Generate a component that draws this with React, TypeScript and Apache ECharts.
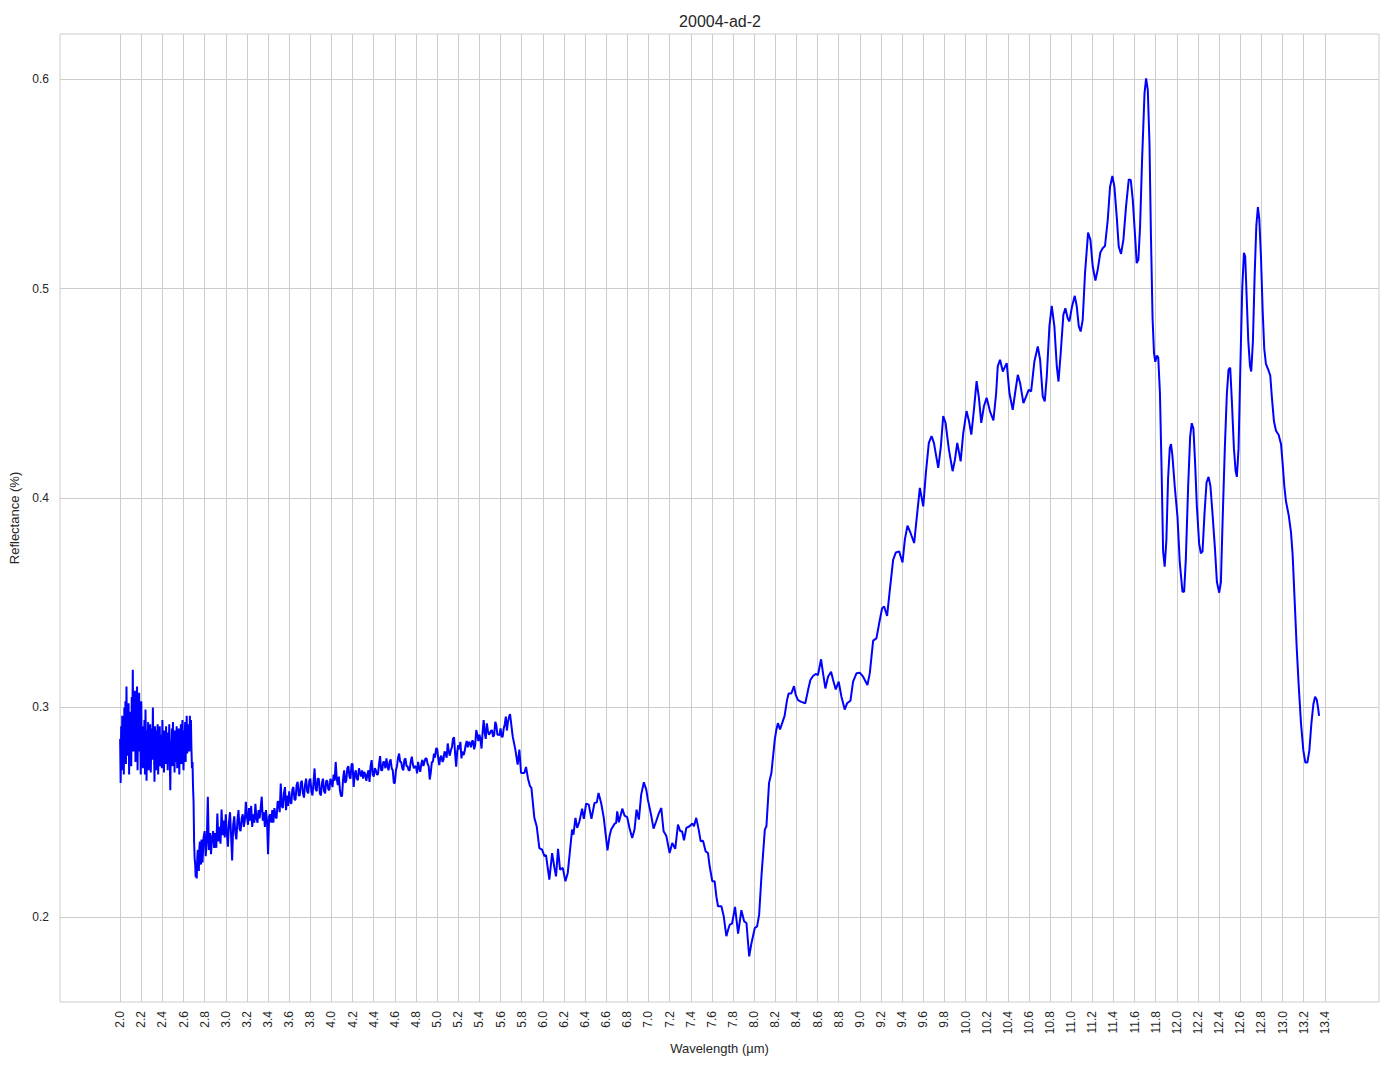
import React, { useEffect, useRef } from "react";
import * as echarts from "echarts";

// ---- data (wavelength µm, reflectance) ----
const nirBand: [number, number][] = [
  [2.0, 0.285], [2.005, 0.264], [2.01, 0.291], [2.015, 0.27], [2.02, 0.296], [2.025, 0.276], [2.03, 0.288], [2.035, 0.268], [2.04, 0.3], [2.045, 0.281],
  [2.05, 0.303], [2.055, 0.273], [2.06, 0.31], [2.065, 0.285], [2.07, 0.296], [2.075, 0.277], [2.08, 0.302], [2.085, 0.268], [2.09, 0.292], [2.095, 0.28],
  [2.1, 0.298], [2.105, 0.272], [2.11, 0.305], [2.115, 0.288], [2.12, 0.318], [2.125, 0.279], [2.13, 0.3], [2.135, 0.283], [2.14, 0.308], [2.145, 0.274],
  [2.15, 0.306], [2.155, 0.281], [2.16, 0.31], [2.165, 0.27], [2.17, 0.295], [2.175, 0.279], [2.18, 0.307], [2.185, 0.284], [2.19, 0.296], [2.195, 0.268],
  [2.2, 0.303], [2.205, 0.279], [2.21, 0.291], [2.215, 0.271], [2.22, 0.288], [2.225, 0.277], [2.23, 0.294], [2.235, 0.268], [2.24, 0.299], [2.245, 0.282],
  [2.25, 0.265], [2.255, 0.289], [2.26, 0.276], [2.265, 0.293], [2.27, 0.27], [2.275, 0.287], [2.28, 0.281], [2.285, 0.292], [2.29, 0.269], [2.295, 0.284],
  [2.3, 0.29], [2.305, 0.275], [2.31, 0.3], [2.315, 0.279], [2.32, 0.286], [2.325, 0.2645], [2.33, 0.291], [2.335, 0.273], [2.34, 0.289], [2.345, 0.27],
  [2.35, 0.283], [2.355, 0.292], [2.36, 0.268], [2.365, 0.286], [2.37, 0.275], [2.375, 0.291], [2.38, 0.272], [2.385, 0.287], [2.39, 0.279], [2.395, 0.271],
  [2.4, 0.294], [2.405, 0.277], [2.41, 0.285], [2.415, 0.269], [2.42, 0.289], [2.425, 0.281], [2.43, 0.273], [2.435, 0.291], [2.44, 0.276], [2.445, 0.287],
  [2.45, 0.27], [2.455, 0.288], [2.46, 0.279], [2.465, 0.292], [2.47, 0.274], [2.475, 0.2605], [2.48, 0.284], [2.485, 0.277], [2.49, 0.29], [2.495, 0.272],
  [2.5, 0.293], [2.505, 0.278], [2.51, 0.286], [2.515, 0.269], [2.52, 0.289], [2.525, 0.274], [2.53, 0.282], [2.535, 0.291], [2.54, 0.271], [2.545, 0.285],
  [2.55, 0.276], [2.555, 0.29], [2.56, 0.268], [2.565, 0.284], [2.57, 0.279], [2.575, 0.292], [2.58, 0.273], [2.585, 0.288], [2.59, 0.294], [2.595, 0.276],
  [2.6, 0.27], [2.605, 0.289], [2.61, 0.28], [2.615, 0.293], [2.62, 0.274], [2.625, 0.287], [2.63, 0.296], [2.635, 0.278], [2.64, 0.291], [2.645, 0.283],
  [2.65, 0.292], [2.655, 0.279], [2.66, 0.296], [2.665, 0.283], [2.67, 0.294], [2.675, 0.28], [2.68, 0.271], [2.685, 0.274], [2.69, 0.262], [2.695, 0.255],
  [2.7, 0.236], [2.705, 0.228], [2.71, 0.2255], [2.715, 0.219], [2.72, 0.224], [2.725, 0.2184], [2.73, 0.228], [2.735, 0.232], [2.74, 0.224], [2.745, 0.222],
  [2.75, 0.233], [2.755, 0.236], [2.76, 0.226], [2.765, 0.225], [2.77, 0.237],
];

const midIrBand: [number, number][] = [
  [2.78, 0.226], [2.79, 0.238],
  [2.8, 0.241], [2.81, 0.229], [2.82, 0.236], [2.83, 0.2574], [2.84, 0.232], [2.85, 0.24], [2.86, 0.23], [2.87, 0.238], [2.88, 0.241], [2.89, 0.233],
  [2.9, 0.24], [2.91, 0.233], [2.92, 0.2494], [2.93, 0.236], [2.94, 0.243], [2.95, 0.235], [2.96, 0.2513], [2.97, 0.239], [2.98, 0.246], [2.99, 0.238],
  [3.0, 0.249], [3.01, 0.24], [3.02, 0.2335], [3.03, 0.245], [3.04, 0.25], [3.05, 0.239], [3.06, 0.227], [3.07, 0.244], [3.08, 0.248], [3.09, 0.24],
  [3.1, 0.237], [3.11, 0.246], [3.12, 0.251], [3.13, 0.242], [3.14, 0.241], [3.15, 0.247], [3.16, 0.249], [3.17, 0.243], [3.18, 0.246], [3.19, 0.255],
  [3.2, 0.248], [3.21, 0.244], [3.22, 0.252], [3.23, 0.246], [3.24, 0.253], [3.25, 0.243], [3.26, 0.249], [3.27, 0.245], [3.28, 0.254], [3.29, 0.247],
  [3.3, 0.245], [3.31, 0.251], [3.32, 0.247], [3.33, 0.252], [3.34, 0.2574], [3.35, 0.246], [3.36, 0.25], [3.37, 0.243], [3.38, 0.251], [3.39, 0.246],
  [3.4, 0.23], [3.41, 0.248], [3.42, 0.249], [3.43, 0.245], [3.44, 0.251], [3.45, 0.245], [3.46, 0.252], [3.47, 0.248], [3.48, 0.247], [3.49, 0.255],
  [3.5, 0.255], [3.51, 0.25], [3.52, 0.2637], [3.53, 0.253], [3.54, 0.252], [3.55, 0.259], [3.56, 0.262], [3.57, 0.251], [3.58, 0.258], [3.59, 0.253],
  [3.6, 0.26], [3.61, 0.255], [3.62, 0.254], [3.63, 0.261], [3.64, 0.262], [3.65, 0.256], [3.66, 0.256], [3.67, 0.263], [3.68, 0.2645], [3.69, 0.258],
  [3.7, 0.258], [3.71, 0.264], [3.72, 0.265], [3.73, 0.259], [3.74, 0.257], [3.75, 0.263], [3.76, 0.266], [3.77, 0.26], [3.78, 0.259], [3.79, 0.265],
  [3.8, 0.266], [3.81, 0.26], [3.82, 0.258], [3.83, 0.264], [3.84, 0.2709], [3.85, 0.261], [3.86, 0.26], [3.87, 0.266], [3.88, 0.266], [3.89, 0.259],
  [3.9, 0.258], [3.91, 0.264], [3.92, 0.266], [3.93, 0.26], [3.94, 0.259], [3.95, 0.265], [3.96, 0.265], [3.97, 0.261], [3.98, 0.2605], [3.99, 0.266],
  [4.0, 0.2645], [4.01, 0.262], [4.02, 0.268], [4.03, 0.265], [4.04, 0.274], [4.05, 0.266], [4.06, 0.263], [4.07, 0.267], [4.08, 0.2605], [4.09, 0.2577],
  [4.1, 0.2577], [4.11, 0.266], [4.12, 0.27], [4.13, 0.264], [4.14, 0.265], [4.15, 0.271], [4.16, 0.272], [4.17, 0.267], [4.18, 0.266], [4.19, 0.273],
  [4.2, 0.273], [4.21, 0.2621], [4.22, 0.268], [4.23, 0.27], [4.24, 0.266], [4.25, 0.2653], [4.26, 0.271], [4.27, 0.269], [4.28, 0.267], [4.29, 0.27],
  [4.3, 0.266], [4.31, 0.2693], [4.32, 0.268], [4.33, 0.265], [4.34, 0.268], [4.35, 0.27], [4.36, 0.2645], [4.37, 0.272], [4.38, 0.2749], [4.39, 0.268],
  [4.4, 0.267], [4.41, 0.271], [4.42, 0.27], [4.43, 0.268], [4.44, 0.268], [4.45, 0.273], [4.46, 0.2768], [4.47, 0.27], [4.48, 0.27], [4.49, 0.274],
  [4.5, 0.274], [4.51, 0.271], [4.52, 0.2757], [4.53, 0.272], [4.54, 0.27], [4.55, 0.274], [4.56, 0.2752], [4.57, 0.271], [4.58, 0.27], [4.59, 0.264],
  [4.6, 0.264], [4.61, 0.27], [4.62, 0.272], [4.63, 0.276], [4.64, 0.278], [4.65, 0.274], [4.66, 0.274], [4.67, 0.271], [4.68, 0.27], [4.69, 0.275],
  [4.7, 0.2757], [4.71, 0.272], [4.72, 0.272], [4.73, 0.27], [4.74, 0.27], [4.75, 0.274], [4.76, 0.2765], [4.77, 0.273], [4.78, 0.271], [4.79, 0.272],
  [4.8, 0.2717], [4.81, 0.2685], [4.82, 0.274], [4.83, 0.271], [4.84, 0.2693], [4.85, 0.273], [4.86, 0.275], [4.87, 0.272], [4.88, 0.274], [4.89, 0.2757],
  [4.9, 0.2757], [4.91, 0.273], [4.92, 0.272], [4.93, 0.2656], [4.94, 0.269], [4.95, 0.274], [4.96, 0.274], [4.97, 0.278], [4.98, 0.276], [4.99, 0.2804],
  [5.0, 0.2804], [5.01, 0.276], [5.02, 0.2725], [5.03, 0.276], [5.04, 0.277], [5.05, 0.274], [5.06, 0.275], [5.07, 0.279], [5.08, 0.278], [5.09, 0.276],
  [5.1, 0.2828], [5.11, 0.279], [5.12, 0.277], [5.13, 0.2796], [5.14, 0.281], [5.15, 0.285], [5.16, 0.2857], [5.17, 0.278], [5.18, 0.2717], [5.19, 0.279],
  [5.2, 0.282], [5.21, 0.28], [5.22, 0.2836], [5.23, 0.2757], [5.24, 0.279], [5.25, 0.2772], [5.26, 0.279], [5.27, 0.282], [5.28, 0.284], [5.29, 0.281],
  [5.3, 0.2836], [5.31, 0.283], [5.32, 0.281], [5.33, 0.284], [5.34, 0.284], [5.35, 0.28], [5.36, 0.282], [5.37, 0.2892], [5.38, 0.287], [5.39, 0.284],
  [5.4, 0.287], [5.41, 0.285], [5.42, 0.2804], [5.43, 0.288], [5.44, 0.294], [5.45, 0.288], [5.46, 0.285], [5.47, 0.2924], [5.48, 0.289], [5.49, 0.287],
  [5.5, 0.2876], [5.51, 0.289], [5.52, 0.289], [5.53, 0.286], [5.54, 0.287], [5.55, 0.2932], [5.56, 0.2916], [5.57, 0.287], [5.58, 0.287], [5.59, 0.2868],
  [5.6, 0.29], [5.61, 0.286], [5.62, 0.286], [5.63, 0.29], [5.64, 0.292], [5.65, 0.2956], [5.66, 0.289], [5.67, 0.293], [5.68, 0.2955], [5.69, 0.2968],
];

const dipRegion: [number, number][] = [
  [5.715, 0.2862], [5.74, 0.2799], [5.762, 0.2727], [5.778, 0.2799], [5.794, 0.2687],
  [5.825, 0.2687], [5.841, 0.2716], [5.86, 0.266], [5.879, 0.2624], [5.892, 0.2616],
  [5.92, 0.2473], [5.942, 0.2433], [5.967, 0.2329], [5.993, 0.2321], [6.015, 0.229],
  [6.03, 0.2295], [6.062, 0.2178], [6.088, 0.2305], [6.11, 0.2234], [6.125, 0.2194],
  [6.144, 0.2325], [6.163, 0.2226], [6.189, 0.2234], [6.214, 0.217], [6.236, 0.221],
  [6.252, 0.229], [6.277, 0.2417], [6.29, 0.2393], [6.309, 0.2473], [6.325, 0.2425],
  [6.347, 0.2457], [6.372, 0.2517], [6.388, 0.2468], [6.41, 0.2541], [6.435, 0.2536],
  [6.46, 0.2468], [6.489, 0.2544], [6.511, 0.2547], [6.527, 0.2592], [6.552, 0.2544],
  [6.577, 0.2473], [6.593, 0.2401], [6.612, 0.2318], [6.631, 0.2385], [6.647, 0.2417],
  [6.678, 0.2444], [6.694, 0.2449], [6.704, 0.2504], [6.72, 0.2452], [6.752, 0.2517],
  [6.773, 0.2484], [6.798, 0.2477], [6.82, 0.2425], [6.846, 0.2377], [6.868, 0.2417],
  [6.887, 0.2512], [6.909, 0.2465], [6.931, 0.2584], [6.956, 0.2643], [6.979, 0.2608],
  [6.994, 0.256], [7.026, 0.2484], [7.048, 0.2422], [7.073, 0.2457], [7.099, 0.2496],
  [7.121, 0.252], [7.143, 0.2409], [7.168, 0.2388], [7.2, 0.2305], [7.225, 0.2353],
  [7.253, 0.2325], [7.279, 0.2441], [7.301, 0.2409], [7.318, 0.2409], [7.336, 0.2366],
  [7.358, 0.2425], [7.389, 0.2433], [7.415, 0.2446], [7.43, 0.2433], [7.452, 0.2473],
  [7.475, 0.2417], [7.494, 0.2361], [7.516, 0.2364], [7.541, 0.2313], [7.563, 0.2305],
  [7.579, 0.2242], [7.604, 0.217], [7.626, 0.217], [7.642, 0.2099], [7.658, 0.2051],
  [7.69, 0.2051], [7.712, 0.2003], [7.737, 0.1908], [7.753, 0.1938], [7.769, 0.1963],
  [7.791, 0.1968], [7.819, 0.2048], [7.848, 0.192], [7.879, 0.2032], [7.905, 0.1979],
  [7.927, 0.1971], [7.953, 0.1812], [7.975, 0.1876], [8.006, 0.1947], [8.028, 0.1955],
  [8.047, 0.2011], [8.069, 0.2194], [8.101, 0.2417], [8.116, 0.2433], [8.141, 0.264],
  [8.163, 0.2687], [8.195, 0.2846], [8.21, 0.2894],
];

const riseRegion: [number, number][] = [
  [8.225, 0.2925], [8.245, 0.2895], [8.265, 0.2925], [8.288, 0.296], [8.311, 0.3035],
  [8.326, 0.3067], [8.352, 0.3067], [8.377, 0.3102], [8.393, 0.306], [8.415, 0.3035],
  [8.446, 0.3027], [8.484, 0.302], [8.51, 0.3083], [8.532, 0.3131], [8.557, 0.315],
  [8.582, 0.316], [8.604, 0.3155], [8.633, 0.323], [8.652, 0.3163], [8.674, 0.3091],
  [8.699, 0.3147], [8.728, 0.3171], [8.747, 0.3131], [8.772, 0.3086], [8.8, 0.3123],
  [8.826, 0.3051], [8.857, 0.299], [8.879, 0.302], [8.911, 0.3032], [8.936, 0.3123],
  [8.968, 0.3163], [8.999, 0.3166], [9.031, 0.3147], [9.072, 0.3107], [9.094, 0.3163],
  [9.126, 0.3319], [9.157, 0.333], [9.183, 0.3402], [9.211, 0.3474], [9.23, 0.3482],
  [9.258, 0.3437], [9.284, 0.3561], [9.315, 0.3705], [9.341, 0.374], [9.372, 0.3745],
  [9.404, 0.3692], [9.426, 0.3801], [9.451, 0.3868], [9.48, 0.3833], [9.514, 0.3785],
  [9.543, 0.3928], [9.568, 0.4048], [9.6, 0.396], [9.625, 0.412], [9.653, 0.4263],
  [9.679, 0.4295], [9.701, 0.4263], [9.742, 0.4144], [9.767, 0.4247], [9.789, 0.4391],
  [9.811, 0.4359], [9.843, 0.4231], [9.878, 0.4128], [9.9, 0.4183], [9.922, 0.4263],
  [9.954, 0.4175], [9.979, 0.4311], [10.01, 0.4415], [10.033, 0.4367], [10.055, 0.4303],
  [10.08, 0.4423], [10.105, 0.4558], [10.127, 0.4478], [10.149, 0.4359], [10.175, 0.4439],
  [10.2, 0.4478], [10.231, 0.4415], [10.264, 0.437],
];

const peakRegion: [number, number][] = [
  [10.29, 0.45], [10.305, 0.4628], [10.327, 0.466], [10.353, 0.4604], [10.375, 0.4628],
  [10.39, 0.4644], [10.416, 0.45], [10.447, 0.4421], [10.469, 0.45], [10.495, 0.4588],
  [10.517, 0.4548], [10.548, 0.4453], [10.574, 0.4485], [10.599, 0.4517], [10.621, 0.4509],
  [10.652, 0.4652], [10.684, 0.4723], [10.706, 0.466], [10.731, 0.4485], [10.75, 0.4461],
  [10.769, 0.458], [10.794, 0.4819], [10.816, 0.4917], [10.841, 0.4819], [10.864, 0.4628],
  [10.88, 0.4556], [10.901, 0.4692], [10.926, 0.4874], [10.945, 0.4906], [10.967, 0.4858],
  [10.983, 0.4843], [11.008, 0.4914], [11.034, 0.4965], [11.053, 0.4914], [11.072, 0.4819],
  [11.09, 0.4795], [11.109, 0.485], [11.131, 0.5073], [11.16, 0.5267], [11.182, 0.5232],
  [11.204, 0.5105], [11.229, 0.5038], [11.251, 0.5089], [11.276, 0.5172], [11.298, 0.5192],
  [11.32, 0.5203], [11.346, 0.5327], [11.368, 0.5486], [11.39, 0.5537], [11.409, 0.5486],
  [11.431, 0.5343], [11.45, 0.52], [11.472, 0.5165], [11.494, 0.5232], [11.519, 0.5391],
  [11.545, 0.5521], [11.564, 0.5518], [11.583, 0.5423], [11.605, 0.5248], [11.62, 0.5121],
  [11.636, 0.5137], [11.652, 0.5296], [11.671, 0.5614], [11.694, 0.5932], [11.709, 0.6003],
  [11.725, 0.5948], [11.741, 0.5693], [11.755, 0.525], [11.77, 0.486], [11.784, 0.469],
  [11.796, 0.465], [11.812, 0.468], [11.824, 0.467], [11.84, 0.45], [11.856, 0.4125],
  [11.87, 0.3745], [11.885, 0.3672], [11.901, 0.38], [11.917, 0.4092], [11.933, 0.4238],
  [11.945, 0.4257], [11.958, 0.4202], [11.98, 0.4056], [12.006, 0.391], [12.028, 0.369],
  [12.053, 0.3553], [12.069, 0.3553], [12.085, 0.3708], [12.107, 0.4056], [12.126, 0.4293],
  [12.141, 0.4357], [12.157, 0.433], [12.173, 0.4165], [12.189, 0.3964], [12.211, 0.3782],
  [12.227, 0.3736], [12.243, 0.3745], [12.262, 0.3928], [12.281, 0.4074], [12.3, 0.4101],
  [12.318, 0.4056], [12.337, 0.3928], [12.36, 0.3763], [12.379, 0.3599], [12.401, 0.3548],
  [12.417, 0.3599], [12.432, 0.3873], [12.454, 0.4238], [12.473, 0.4494], [12.489, 0.4613],
  [12.505, 0.4622], [12.521, 0.4458], [12.54, 0.4238], [12.556, 0.4129], [12.568, 0.4101],
  [12.584, 0.4238], [12.6, 0.4604], [12.619, 0.5005], [12.635, 0.517], [12.647, 0.5152],
  [12.66, 0.4969], [12.676, 0.475], [12.692, 0.4631], [12.704, 0.4604], [12.72, 0.475],
  [12.736, 0.506], [12.752, 0.5298], [12.767, 0.5389], [12.78, 0.5334], [12.796, 0.5152],
  [12.812, 0.4896], [12.827, 0.4713], [12.843, 0.464], [12.865, 0.4613], [12.884, 0.4585],
  [12.9, 0.4476], [12.919, 0.4366], [12.938, 0.4321], [12.963, 0.4302], [12.986, 0.4257],
  [13.001, 0.4165], [13.017, 0.4056], [13.033, 0.3983], [13.058, 0.3919], [13.08, 0.3837],
  [13.096, 0.3727], [13.115, 0.3508], [13.134, 0.3289], [13.153, 0.3106], [13.175, 0.2923],
  [13.197, 0.2795], [13.216, 0.2737], [13.235, 0.2737], [13.254, 0.2795], [13.273, 0.2923],
  [13.292, 0.3015], [13.308, 0.3051], [13.324, 0.3037], [13.337, 0.2996], [13.346, 0.296],
];

const xTickValues = [
  2.0, 2.2, 2.4, 2.6, 2.8, 3.0, 3.2, 3.4, 3.6, 3.8, 4.0, 4.2, 4.4, 4.6, 4.8, 5.0, 5.2, 5.4,
  5.6, 5.8, 6.0, 6.2, 6.4, 6.6, 6.8, 7.0, 7.2, 7.4, 7.6, 7.8, 8.0, 8.2, 8.4, 8.6, 8.8, 9.0,
  9.2, 9.4, 9.6, 9.8, 10.0, 10.2, 10.4, 10.6, 10.8, 11.0, 11.2, 11.4, 11.6, 11.8, 12.0, 12.2,
  12.4, 12.6, 12.8, 13.0, 13.2, 13.4,
];
const yTickValues = [0.2, 0.3, 0.4, 0.5, 0.6];

const chartTitle = "20004-ad-2";
const xAxisTitle = "Wavelength (µm)";
const yAxisTitle = "Reflectance (%)";

const FONT = "'Liberation Sans', Arial, sans-serif";
const GRID_COLOR = "#cccccc";
const TEXT_COLOR = "#262626";

export default function App() {
  const ref = useRef<HTMLDivElement>(null);

  useEffect(() => {
    if (!ref.current) return;
    const chart = echarts.init(ref.current, null, { renderer: "svg" });
    const spectrum = [...nirBand, ...midIrBand, ...dipRegion, ...riseRegion, ...peakRegion];
    chart.setOption({
      animation: false,
      backgroundColor: "#ffffff",
      textStyle: { fontFamily: FONT },
      graphic: [
        {
          type: "text",
          x: 720,
          y: 21,
          style: {
            text: chartTitle,
            fontFamily: FONT,
            fontSize: 16,
            fill: TEXT_COLOR,
            textAlign: "center",
            textVerticalAlign: "middle",
          },
        },
      ],
      grid: {
        left: 60,
        right: 15,
        top: 34,
        bottom: 67,
        show: true,
        borderColor: GRID_COLOR,
        borderWidth: 1,
        backgroundColor: "#ffffff",
        containLabel: false,
      },
      xAxis: {
        type: "value",
        min: 1.431,
        max: 13.913,
        name: xAxisTitle,
        nameLocation: "middle",
        nameGap: 40,
        nameTextStyle: { fontFamily: FONT, fontSize: 13, color: TEXT_COLOR },
        axisLine: { show: false },
        axisTick: { show: false, customValues: xTickValues },
        axisLabel: {
          customValues: xTickValues,
          rotate: 90,
          margin: 9,
          fontSize: 12,
          color: TEXT_COLOR,
          fontFamily: FONT,
          formatter: (v: number) => v.toFixed(1),
        },
        splitLine: { show: true, lineStyle: { color: GRID_COLOR, width: 1 } },
      },
      yAxis: {
        type: "value",
        min: 0.1594,
        max: 0.6215,
        name: yAxisTitle,
        nameLocation: "middle",
        nameGap: 31,
        nameRotate: 90,
        nameTextStyle: { fontFamily: FONT, fontSize: 13, color: TEXT_COLOR },
        axisLine: { show: false },
        axisTick: { show: false, customValues: yTickValues },
        axisLabel: {
          customValues: yTickValues,
          margin: 11,
          fontSize: 12,
          color: TEXT_COLOR,
          fontFamily: FONT,
          formatter: (v: number) => v.toFixed(1),
        },
        splitLine: { show: true, lineStyle: { color: GRID_COLOR, width: 1 } },
      },
      series: [
        {
          type: "line",
          data: spectrum,
          showSymbol: false,
          symbol: "none",
          smooth: false,
          clip: true,
          lineStyle: { color: "#0000ff", width: 2 },
          itemStyle: { color: "#0000ff" },
        },
      ],
    });
    return () => chart.dispose();
  }, []);

  return (
    <div
      ref={ref}
      style={{ position: "absolute", left: 0, top: 0, width: 1394, height: 1069, background: "#fff" }}
    />
  );
}
